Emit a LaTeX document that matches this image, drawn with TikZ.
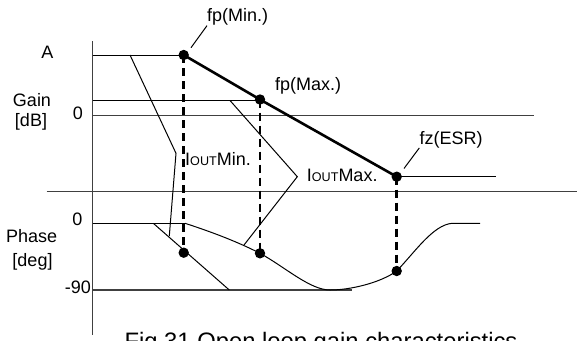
\documentclass[tikz,border=0pt]{standalone}
\usepackage{fontspec}
\setmainfont{Liberation Sans}
\tikzset{
  lbl/.style={font=\fontsize{18}{20}\selectfont, inner sep=0pt},
  axisline/.style={line width=1.3pt, black!75},
  thinline/.style={line width=1pt},
  drop/.style={line width=2.8pt, dash pattern=on 8pt off 5pt},
}
\newcommand{\ioutlbl}{I{\fontsize{12.6}{14}\selectfont OUT}}

\begin{document}
\begin{tikzpicture}[x=1pt,y=-1pt]
    \useasboundingbox (0,0) rectangle (577,340);

    % Axes and level lines
    \draw[axisline] (92.7,41) -- (92.7,335);
    \draw[axisline] (46.7,191.7) -- (577,191.7);
    \draw[axisline] (92.7,115.7) -- (534,115.7);
    \draw[thinline] (92.7,55) -- (183.7,55);
    \draw[thinline] (92.7,100.5) -- (260,100.5);
    \draw[thinline] (92.7,223.3) -- (185,223.3);
    \draw[axisline] (92.7,290) -- (351.7,290);

    % Corner points
    \foreach \n/\x/\y in {pmin/183.7/55, pmax/260/99.5, zesr/396.7/176.7,
                          qmin/183.7/252.7, qmax/260/253.3, qesr/396.7/271} {
        \coordinate (\n) at (\x,\y);
    }

    % Gain asymptote
    \draw[line width=2.6pt] (pmin) -- (pmax) -- (zesr);
    \draw[thinline] (zesr) -- (496,176.7);

    % Phase curves
    \draw[thinline] (153.3,223.3) -- (229.3,290);
    \draw[thinline] (185,223.3) .. controls (215,233) and (240,243) .. (qmax)
        .. controls (285,267) and (310,290) .. (330,290)
        .. controls (350,290) and (380,283) .. (qesr)
        .. controls (415,252) and (433,225) .. (452,223.3) -- (480,223.3);

    % Drop lines
    \foreach \a/\b in {pmin/qmin, pmax/qmax, zesr/qesr} {
        \draw[drop] (\a) -- (\b);
    }
    \foreach \n in {pmin, pmax, zesr, qmin, qmax, qesr} {
        \fill (\n) circle (5.2);
    }

    % Load current brackets
    \draw[thinline] (130,55) -- (176,153.3) -- (169.3,236);
    \draw[thinline] (230,100.5) -- (297.3,176.7) -- (244,245);
    \node[lbl, anchor=base west] (imin) at (185,165) {\ioutlbl Min.};
    \node[lbl, anchor=base west] (imax) at (306.7,181.7) {\ioutlbl Max.};

    % Break point labels
    \node[lbl, anchor=base west] (fpmin) at (207,21.7) {fp(Min.)};
    \node[lbl, anchor=base west] (fpmax) at (275,90) {fp(Max.)};
    \node[lbl, anchor=base west] (fzesr) at (419.3,144) {fz(ESR)};
    \coordinate (fpminend) at (191,47.7);
    \coordinate (fzesrend) at (404,168.5);
    \draw[thinline] (fpminend) -- (fpmin.south west);
    \draw[thinline] (fzesrend) -- (fzesr.south west);

    % Axis labels
    \node[lbl, anchor=base] (amark) at (47.5,58.3) {A};
    \node[lbl, anchor=base] (gzero) at (77.8,119.5) {0};
    \node[lbl, anchor=base] (gain) at (32,106) {Gain};
    \node[lbl, anchor=base] (db) at (31,126.7) {[dB]};
    \node[lbl, anchor=base] (pzero) at (77.3,225) {0};
    \node[lbl, anchor=base east] (pninety) at (91,293.3) {-90};
    \node[lbl, anchor=base] (phase) at (31.7,242.7) {Phase};
    \node[lbl, anchor=base] (deg) at (32.5,266) {[deg]};

    % Caption
    \node[font=\fontsize{23.8}{26}\selectfont, inner sep=0pt, anchor=base] (cap) at (321,349.7)
        {Fig.31 Open loop gain characteristics};
\end{tikzpicture}
\end{document}
